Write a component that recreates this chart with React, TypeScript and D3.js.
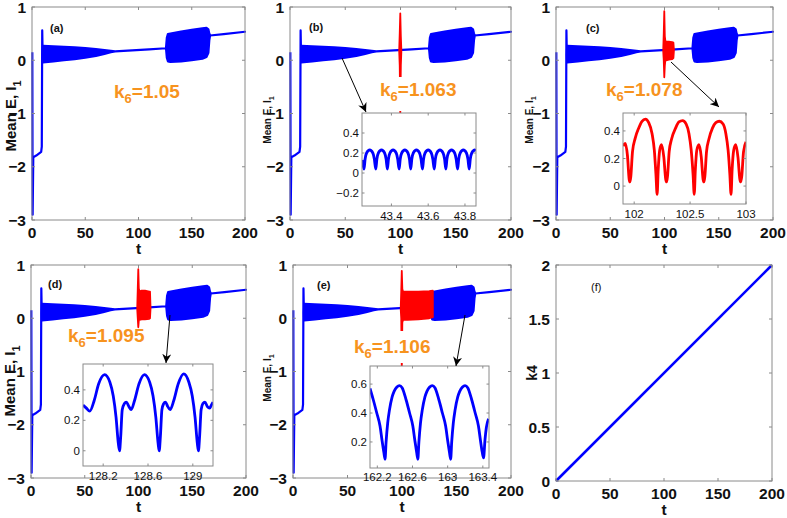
import React from 'react';
import * as d3 from 'd3';

const FONT = '"Liberation Sans", Arial, Helvetica, sans-serif';
const BLUE = '#0000ff';
const RED = '#ff0000';
const ORANGE = '#f7931e';
const BOX = '#8a8a8a';

// ---------- data ----------
const mainXTicks = [0, 50, 100, 150, 200];
const mainYTicks = [-3, -2, -1, 0, 1];
const fYTicks = [0, 0.5, 1, 1.5, 2];
const k6Values = ['1.05', '1.063', '1.078', '1.095', '1.106'];
const panelLetters = ['(a)', '(b)', '(c)', '(d)', '(e)', '(f)'];

// early transient of Mean E, I1
const earlyT = [0.3, 0.6, 1.2, 4, 8.6, 9.2, 9.6, 10.0];
const earlyV = [0.15, -2.9, -1.82, -1.79, -1.72, -1.62, 0.56, 0.1];

// envelope of the (blue) oscillating trace
const bandT = [10.0, 10.3, 20, 30, 40, 50, 60, 68, 74, 78, 90, 110, 125.8, 126.6, 127.6, 130, 140, 150, 160, 163.8, 165.6, 166.5, 167.2, 180, 200];
const bandLo = [0.1, -0.04, -0.02, 0.0, 0.02, 0.05, 0.08, 0.12, 0.15, 0.165, 0.18, 0.205, 0.225, 0.05, -0.02, -0.03, -0.02, 0.0, 0.03, 0.06, 0.14, 0.38, 0.465, 0.49, 0.535];
const bandHi = [0.1, 0.27, 0.26, 0.25, 0.24, 0.23, 0.21, 0.19, 0.175, 0.165, 0.18, 0.205, 0.225, 0.42, 0.49, 0.5, 0.54, 0.57, 0.6, 0.61, 0.58, 0.5, 0.465, 0.49, 0.535];

// red (k6-dependent) segments
const redBT = [98.8, 99.3, 99.8, 100.3, 100.8];
const redBLo = [0.18, -0.1, -1.02, -0.1, 0.18];
const redBHi = [0.18, 0.5, 0.88, 0.45, 0.18];

const redCT = [98.8, 99.3, 99.8, 100.3, 100.8, 101.5, 104, 107, 108.2, 108.7];
const redCLo = [0.18, 0.0, -0.32, -0.1, 0.0, 0.0, 0.01, 0.02, 0.04, 0.19];
const redCHi = [0.18, 0.5, 0.92, 0.45, 0.36, 0.35, 0.35, 0.34, 0.33, 0.19];

const redDT = [98.8, 99.3, 99.8, 100.3, 101, 103, 106, 110, 110.7, 111.2];
const redDLo = [0.18, 0.0, -0.17, -0.04, -0.03, -0.02, -0.02, -0.01, 0.0, 0.19];
const redDHi = [0.18, 0.55, 0.92, 0.56, 0.5, 0.52, 0.52, 0.5, 0.5, 0.19];

const redET = [98.8, 99.3, 99.8, 100.3, 101, 105, 115, 125, 128.3];
const redELo = [0.18, 0.0, -0.95, -0.08, -0.03, -0.03, -0.02, 0.0, 0.02];
const redEHi = [0.18, 0.5, 0.89, 0.55, 0.5, 0.5, 0.5, 0.51, 0.52];

// k4 ramp (panel f)
const kT = [0, 200];
const kV = [0, 2];

// inset (b)
const insetBT = [43.24, 43.245, 43.251, 43.257, 43.265, 43.282, 43.299, 43.307,
  43.315, 43.321, 43.329, 43.346, 43.363, 43.371,
  43.378, 43.384, 43.392, 43.409, 43.426, 43.434,
  43.442, 43.448, 43.456, 43.473, 43.490, 43.498,
  43.505, 43.511, 43.519, 43.536, 43.553, 43.561,
  43.569, 43.575, 43.583, 43.600, 43.617, 43.625,
  43.633, 43.639, 43.647, 43.664, 43.681, 43.689,
  43.696, 43.702, 43.710, 43.727, 43.744, 43.752,
  43.760, 43.766, 43.774, 43.791, 43.808, 43.816,
  43.823, 43.829, 43.837, 43.854, 43.86];
const insetBV = [0.13, 0.09, 0.04, 0.14, 0.2, 0.23, 0.2, 0.14,
  0.04, 0.14, 0.2, 0.23, 0.2, 0.14,
  0.04, 0.14, 0.2, 0.23, 0.2, 0.14,
  0.04, 0.14, 0.2, 0.23, 0.2, 0.14,
  0.04, 0.14, 0.2, 0.23, 0.2, 0.14,
  0.04, 0.14, 0.2, 0.23, 0.2, 0.14,
  0.04, 0.14, 0.2, 0.23, 0.2, 0.14,
  0.04, 0.14, 0.2, 0.23, 0.2, 0.14,
  0.04, 0.14, 0.2, 0.23, 0.2, 0.14,
  0.04, 0.14, 0.2, 0.23, 0.225];

// inset (c)
const insetCT = [101.9, 101.92, 101.94, 101.955, 101.962, 101.97, 101.985, 102.01, 102.04, 102.07, 102.1, 102.13, 102.16, 102.18, 102.195,
  102.205, 102.215, 102.228, 102.244, 102.265, 102.282, 102.29, 102.298, 102.313, 102.334, 102.37, 102.4, 102.433, 102.465, 102.49, 102.51, 102.527,
  102.537, 102.547, 102.56, 102.579, 102.6, 102.616, 102.624, 102.632, 102.647, 102.668, 102.7, 102.73, 102.761, 102.795, 102.82, 102.84, 102.856,
  102.866, 102.876, 102.89, 102.908, 102.928, 102.945, 102.953, 102.962, 102.978, 103.0];
const insetCV = [0.29, 0.31, 0.22, 0.05, 0.03, 0.07, 0.25, 0.35, 0.42, 0.47, 0.485, 0.46, 0.38, 0.26, 0.08,
  -0.06, 0.12, 0.26, 0.3, 0.21, 0.05, 0.03, 0.07, 0.25, 0.34, 0.42, 0.465, 0.475, 0.45, 0.38, 0.26, 0.08,
  -0.06, 0.12, 0.26, 0.3, 0.21, 0.05, 0.03, 0.07, 0.25, 0.34, 0.42, 0.46, 0.47, 0.45, 0.38, 0.26, 0.08,
  -0.06, 0.12, 0.26, 0.3, 0.21, 0.05, 0.03, 0.07, 0.25, 0.32];

// inset (d)
const insetDT = [128.02, 128.05, 128.08, 128.12, 128.16, 128.213, 128.26, 128.29, 128.315, 128.335,
  128.346, 128.357, 128.37, 128.39, 128.406, 128.43, 128.45, 128.48, 128.52, 128.568, 128.615, 128.645, 128.67, 128.69,
  128.7, 128.711, 128.724, 128.74, 128.755, 128.777, 128.797, 128.83, 128.87, 128.918, 128.965, 128.995, 129.02, 129.04,
  129.05, 129.061, 129.074, 129.09, 129.108, 129.13, 129.15, 129.165, 129.18];
const insetDV = [0.3, 0.28, 0.26, 0.33, 0.44, 0.5, 0.45, 0.36, 0.22, 0.05,
  0.0, 0.1, 0.27, 0.31, 0.32, 0.29, 0.27, 0.33, 0.44, 0.5, 0.45, 0.36, 0.22, 0.05,
  0.0, 0.1, 0.27, 0.31, 0.32, 0.29, 0.27, 0.33, 0.44, 0.505, 0.45, 0.36, 0.22, 0.05,
  0.0, 0.1, 0.27, 0.31, 0.32, 0.29, 0.28, 0.3, 0.32];

// inset (e)
const insetET = [162.117, 162.155, 162.194, 162.231, 162.254, 162.274, 162.288, 162.3, 162.318, 162.338, 162.368, 162.391, 162.423, 162.452,
  162.482, 162.528, 162.567, 162.604, 162.627, 162.647, 162.661, 162.673, 162.691, 162.711, 162.741, 162.764, 162.796, 162.825,
  162.855, 162.901, 162.94, 162.977, 163.0, 163.02, 163.034, 163.046, 163.064, 163.084, 163.114, 163.137, 163.169, 163.198,
  163.228, 163.274, 163.313, 163.35, 163.373, 163.393, 163.408, 163.425, 163.44, 163.465];
const insetEV = [0.57, 0.49, 0.4, 0.31, 0.21, 0.13, 0.08, 0.2, 0.33, 0.42, 0.51, 0.55, 0.58, 0.59,
  0.575, 0.49, 0.4, 0.31, 0.21, 0.13, 0.08, 0.2, 0.33, 0.42, 0.51, 0.55, 0.58, 0.59,
  0.575, 0.49, 0.4, 0.31, 0.21, 0.13, 0.08, 0.2, 0.33, 0.42, 0.51, 0.55, 0.58, 0.59,
  0.575, 0.49, 0.4, 0.31, 0.21, 0.13, 0.09, 0.22, 0.3, 0.36];

// ---------- helpers ----------
const fmt = (v: number) => String(v).replace('-', '\u2212');

type Box = { L: number; R: number; T: number; B: number };

function Axes({ box, x, y, xt, yt, tick, fs, bold, xlOff, ylOff, ylDy }: any) {
  const { L, R, T, B } = box;
  return (
    <g>
      <rect x={L} y={T} width={R - L} height={B - T} fill="none" stroke={BOX} strokeWidth={1} />
      {xt.map((v: number) => (
        <g key={'x' + v}>
          <line x1={x(v)} x2={x(v)} y1={B} y2={B - tick} stroke={BOX} />
          <line x1={x(v)} x2={x(v)} y1={T} y2={T + tick} stroke={BOX} />
          <text x={x(v)} y={B + xlOff} textAnchor="middle" fontSize={fs} fontWeight={bold ? 'bold' : 'normal'} fill="#111">{fmt(v)}</text>
        </g>
      ))}
      {yt.map((v: number) => (
        <g key={'y' + v}>
          <line x1={L} x2={L + tick} y1={y(v)} y2={y(v)} stroke={BOX} />
          <line x1={R} x2={R - tick} y1={y(v)} y2={y(v)} stroke={BOX} />
          <text x={L - ylOff} y={y(v) + ylDy} textAnchor="end" fontSize={fs} fontWeight={bold ? 'bold' : 'normal'} fill="#111">{fmt(v)}</text>
        </g>
      ))}
    </g>
  );
}

function bandPath(x: any, y: any, T: number[], Lo: number[], Hi: number[]) {
  const idx = T.map((_, i) => i);
  return d3.area<number>().x((i) => x(T[i])).y0((i) => y(Lo[i])).y1((i) => y(Hi[i]))(idx) || '';
}
function linePath(x: any, y: any, T: number[], V: number[], curve?: any) {
  const idx = T.map((_, i) => i);
  const g = d3.line<number>().x((i) => x(T[i])).y((i) => y(V[i]));
  if (curve) g.curve(curve);
  return g(idx) || '';
}

function Inset({ id, box, xd, yd, xt, yt, T, V, color, xlOff }: any) {
  const [L, Tp, R, B] = box;
  const x = d3.scaleLinear().domain(xd).range([L, R]);
  const y = d3.scaleLinear().domain(yd).range([B, Tp]);
  return (
    <g>
      <rect x={L} y={Tp} width={R - L} height={B - Tp} fill="#fff" />
      <clipPath id={'clip' + id}><rect x={L} y={Tp} width={R - L} height={B - Tp} /></clipPath>
      <path d={linePath(x, y, T, V, d3.curveMonotoneX)} fill="none" stroke={color} strokeWidth={2.8} strokeLinejoin="round" clipPath={`url(#clip${id})`} />
      <Axes box={{ L, R, T: Tp, B }} x={x} y={y} xt={xt} yt={yt} tick={2.5} fs={11.5} bold={false} xlOff={xlOff ?? 14} ylOff={3} ylDy={4} />
    </g>
  );
}

function YLabel({ x, y, fs, children }: any) {
  return (
    <text transform={`translate(${x},${y}) rotate(-90)`} textAnchor="middle" fontSize={fs} fontWeight="bold" fill="#111">{children}</text>
  );
}

function K6({ x, y, val, bg }: any) {
  return (
    <g>
      {bg && <rect x={bg[0]} y={bg[1]} width={bg[2]} height={bg[3]} fill="#fff" />}
      <text x={x} y={y} fill={ORANGE} fontSize={19} fontWeight="bold">
        k<tspan fontSize={13} dy={5}>6</tspan><tspan dy={-5}>={val}</tspan>
      </text>
    </g>
  );
}

function MainPanel({ box, red, letter, lpos, yl, k6, inset, arrow }: any) {
  const { L, R, T, B } = box as Box;
  const x = d3.scaleLinear().domain([0, 200]).range([L, R]);
  const y = d3.scaleLinear().domain([-3, 1]).range([B, T]);
  return (
    <g>
      <path d={linePath(x, y, earlyT, earlyV)} fill="none" stroke={BLUE} strokeWidth={2.2} strokeLinejoin="round" />
      <path d={bandPath(x, y, bandT, bandLo, bandHi)} fill={BLUE} stroke={BLUE} strokeWidth={2.2} strokeLinejoin="round" />
      {red && <path d={bandPath(x, y, red[0], red[1], red[2])} fill={RED} stroke={RED} strokeWidth={1.8} strokeLinejoin="round" />}
      <Axes box={box} x={x} y={y} xt={mainXTicks} yt={mainYTicks} tick={3} fs={15.5} bold={true} xlOff={18} ylOff={6} ylDy={5.5} />
      <text x={(L + R) / 2} y={B + 34} textAnchor="middle" fontSize={15.5} fontWeight="bold" fill="#111">t</text>
      <YLabel x={yl.x} y={yl.y} fs={yl.fs}>Mean E, I<tspan fontSize={yl.fs * 0.72} dy={yl.fs * 0.3}>1</tspan></YLabel>
      <text x={lpos[0]} y={lpos[1]} fontSize={11} fontWeight="bold" fill="#111">{letter}</text>
      <K6 x={k6.x} y={k6.y} val={k6.val} bg={k6.bg} />
      {inset && <Inset {...inset} />}
      {arrow && <line x1={arrow[0]} y1={arrow[1]} x2={arrow[2]} y2={arrow[3]} stroke="#000" strokeWidth={1} markerEnd="url(#arr)" />}
    </g>
  );
}

function PanelF() {
  const L = 556, R = 772, T = 265, B = 481;
  const x = d3.scaleLinear().domain([0, 200]).range([L, R]);
  const y = d3.scaleLinear().domain([0, 2]).range([B, T]);
  return (
    <g>
      <path d={linePath(x, y, kT, kV)} fill="none" stroke={BLUE} strokeWidth={2.6} />
      <Axes box={{ L, R, T, B }} x={x} y={y} xt={mainXTicks} yt={fYTicks} tick={3} fs={15.5} bold={true} xlOff={18} ylOff={6} ylDy={5.5} />
      <text x={(L + R) / 2} y={B + 34} textAnchor="middle" fontSize={15.5} fontWeight="bold" fill="#111">t</text>
      <YLabel x={537} y={373} fs={14}>k4</YLabel>
      <text x={591} y={291} fontSize={11} fill="#111">{panelLetters[5]}</text>
    </g>
  );
}

export default function App() {
  return (
    <svg width={787} height={518} style={{ position: 'absolute', left: 0, top: 0, background: '#fff', fontFamily: FONT }}>
      <defs>
        <marker id="arr" viewBox="0 0 10 10" refX={10} refY={5} markerWidth={9} markerHeight={9} orient="auto" markerUnits="userSpaceOnUse">
          <path d="M0,0 L10,5 L0,10 L3,5 Z" fill="#000" />
        </marker>
      </defs>
      <rect x={0} y={0} width={787} height={518} fill="#fff" />
      <MainPanel box={{ L: 32, R: 245, T: 7, B: 220 }} letter={panelLetters[0]} lpos={[50, 32]}
        yl={{ x: 16, y: 116, fs: 15 }} k6={{ x: 114, y: 98, val: k6Values[0] }} />
      <MainPanel box={{ L: 290, R: 511, T: 7, B: 220 }} letter={panelLetters[1]} lpos={[309, 31]}
        yl={{ x: 271, y: 120, fs: 10 }} red={[redBT, redBLo, redBHi]}
        k6={{ x: 380, y: 96, val: k6Values[1], bg: [376, 77, 86, 34] }}
        inset={{ id: 'b', box: [362, 113, 476, 206], xd: [43.24, 43.86], yd: [-0.33, 0.6], xt: [43.4, 43.6, 43.8], yt: [-0.2, 0, 0.2, 0.4], T: insetBT, V: insetBV, color: BLUE }}
        arrow={[342, 58, 366, 112]} />
      <MainPanel box={{ L: 556, R: 773, T: 7, B: 220 }} letter={panelLetters[2]} lpos={[586, 32]}
        yl={{ x: 533, y: 120, fs: 10 }} red={[redCT, redCLo, redCHi]}
        k6={{ x: 606, y: 96, val: k6Values[2] }}
        inset={{ id: 'c', box: [623, 113, 746, 204], xd: [101.9, 103.0], yd: [-0.13, 0.53], xt: [102, 102.5, 103], yt: [0, 0.2, 0.4], T: insetCT, V: insetCV, color: RED }}
        arrow={[671, 62, 719, 107]} />
      <MainPanel box={{ L: 31, R: 246, T: 265, B: 478 }} letter={panelLetters[3]} lpos={[48, 288]}
        yl={{ x: 15, y: 381, fs: 15 }} red={[redDT, redDLo, redDHi]}
        k6={{ x: 68, y: 342, val: k6Values[3] }}
        inset={{ id: 'd', box: [83, 364, 213, 466], xd: [128.02, 129.18], yd: [-0.1, 0.57], xt: [128.2, 128.6, 129], yt: [0, 0.2, 0.4], T: insetDT, V: insetDV, color: BLUE }}
        arrow={[170, 315, 166, 363]} />
      <MainPanel box={{ L: 293, R: 511, T: 265, B: 478 }} letter={panelLetters[4]} lpos={[317, 289]}
        yl={{ x: 271, y: 378, fs: 10 }} red={[redET, redELo, redEHi]}
        k6={{ x: 354, y: 353, val: k6Values[4], bg: [350, 331, 90, 32] }}
        inset={{ id: 'e', box: [370, 366, 489, 468], xd: [162.117, 163.47], yd: [0.02, 0.725], xt: [162.2, 162.6, 163, 163.4], yt: [0.2, 0.4, 0.6], T: insetET, V: insetEV, color: BLUE, xlOff: 12.5 }}
        arrow={[465, 315, 456, 366]} />
      <PanelF />
    </svg>
  );
}
